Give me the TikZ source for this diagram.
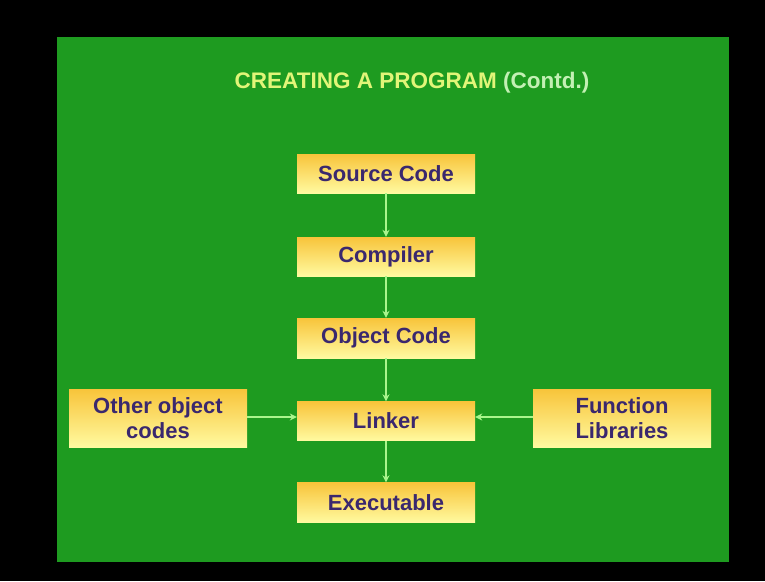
\documentclass[tikz,border=0pt]{standalone}
\usepackage{fontspec}
\setmainfont{Liberation Sans}
\usetikzlibrary{arrows.meta}
\definecolor{bggreen}{RGB}{30,155,32}
\definecolor{boxtop}{RGB}{248,196,58}
\definecolor{boxbot}{RGB}{255,250,160}
\definecolor{boxtext}{RGB}{58,40,110}
\definecolor{arrowgreen}{RGB}{170,245,140}
\definecolor{titleyellow}{RGB}{225,245,120}
\definecolor{titlelight}{RGB}{195,240,180}
\tikzset{
  flowbox/.style={rectangle, top color=boxtop, bottom color=boxbot, draw=none,
    minimum width=178pt, minimum height=39pt, inner sep=0pt, align=center,
    text=boxtext, font=\fontsize{22}{25}\selectfont\bfseries},
  flowarrow/.style={draw=arrowgreen, line width=2.2pt, -{Stealth[length=7pt,width=7pt]}}
}
\begin{document}
\begin{tikzpicture}[x=1pt,y=-1pt]
\useasboundingbox (0,0) rectangle (765,581);
\fill[black] (0,0) rectangle (765,581);
\fill[bggreen] (57,37) rectangle (729,562);
\node[font=\fontsize{22.5}{25}\selectfont\bfseries, inner sep=0pt] (title) at (412,83)
  {\textcolor{titleyellow}{CREATING A PROGRAM} \textcolor{titlelight}{(Contd.)}};
\node[flowbox] (src) at (386,173.5) {Source Code};
\node[flowbox] (comp) at (386,256.5) {Compiler};
\node[flowbox, minimum height=40pt] (obj) at (386,338) {Object Code};
\node[flowbox] (link) at (386,421) {Linker};
\node[flowbox, minimum height=40pt] (exe) at (386,502.5) {Executable};
\node[flowbox, minimum height=58pt] (other) at (158,418) {Other object\\codes};
\node[flowbox, minimum height=58pt] (func) at (622,418) {Function\\Libraries};
\draw[flowarrow] (src) -- (comp);
\draw[flowarrow] (comp) -- (obj);
\draw[flowarrow] (obj) -- (link);
\draw[flowarrow] (link) -- (exe);
\draw[flowarrow] (other.east |- 0,417) -- (link.west |- 0,417);
\draw[flowarrow] (func.west |- 0,417) -- (link.east |- 0,417);
\end{tikzpicture}
\end{document}
